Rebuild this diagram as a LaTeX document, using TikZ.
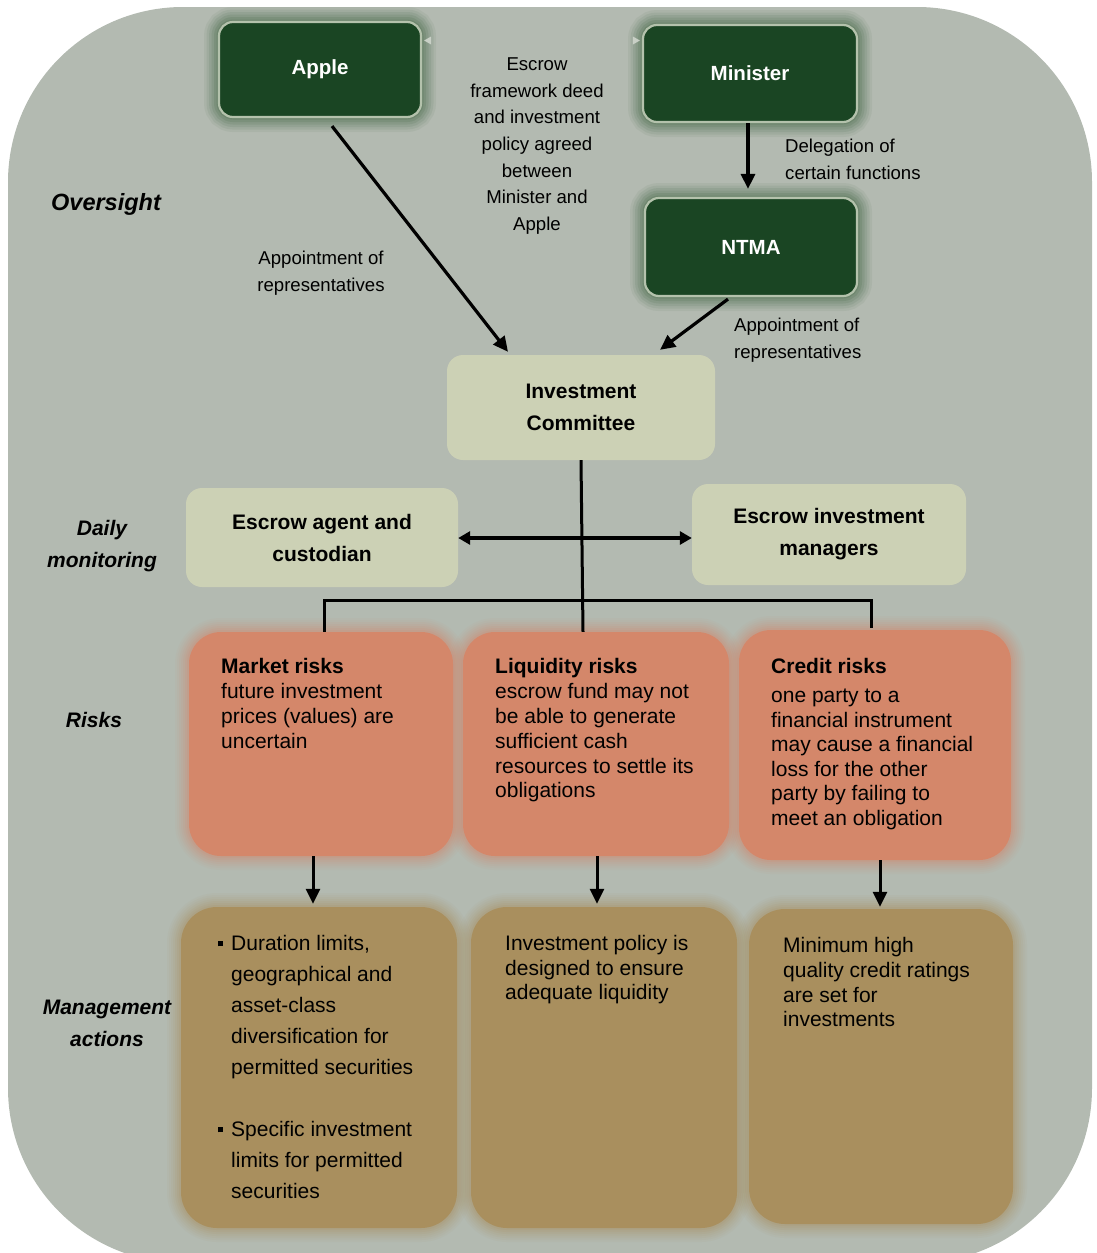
\documentclass[tikz,border=0pt]{standalone}
\usepackage{fontspec}
\setmainfont{Liberation Sans}
\usetikzlibrary{arrows.meta,calc}
\definecolor{bgc}{HTML}{B3BAB1}
\definecolor{dkgreen}{HTML}{1A4523}
\definecolor{greenedge}{HTML}{B4C2AC}
\definecolor{glowg}{HTML}{3A5F3B}
\definecolor{lightbox}{HTML}{CCD1B5}
\definecolor{orangebox}{HTML}{D4876A}
\definecolor{tanbox}{HTML}{A98F5E}
\definecolor{tipc}{HTML}{C9D0C6}
\begin{document}
\begin{tikzpicture}[x=1pt,y=-1pt,
  glow/.style={
    preaction={draw=#1, line width=28pt, draw opacity=0.05},
    preaction={draw=#1, line width=24pt, draw opacity=0.06},
    preaction={draw=#1, line width=20pt, draw opacity=0.07},
    preaction={draw=#1, line width=16pt, draw opacity=0.08},
    preaction={draw=#1, line width=12pt, draw opacity=0.10},
    preaction={draw=#1, line width=8pt, draw opacity=0.12},
    preaction={draw=#1, line width=4pt, draw opacity=0.15}},
  greenglow/.style={
    preaction={draw=#1, line width=30pt, draw opacity=0.07},
    preaction={draw=#1, line width=25pt, draw opacity=0.09},
    preaction={draw=#1, line width=20pt, draw opacity=0.11},
    preaction={draw=#1, line width=15pt, draw opacity=0.13},
    preaction={draw=#1, line width=10pt, draw opacity=0.15},
    preaction={draw=#1, line width=5pt, draw opacity=0.18}},
  greenbox/.style={draw=greenedge, line width=2.2pt, fill=dkgreen, rounded corners=14pt,
    inner sep=0pt, text=white, font=\fontsize{20.5}{24}\selectfont\bfseries, greenglow=glowg},
  lbox/.style={fill=lightbox, rounded corners=16pt, inner sep=0pt, align=center,
    font=\fontsize{21}{32}\selectfont\bfseries},
  riskbox/.style={fill=orangebox, rounded corners=32pt, inner sep=0pt, glow=orangebox},
  mbox/.style={fill=tanbox, rounded corners=36pt, inner sep=0pt, glow=tanbox},
  smalllabel/.style={inner sep=0pt, font=\fontsize{18.6}{26.7}\selectfont},
  sidelabel/.style={inner sep=0pt, align=center, font=\fontsize{21}{31.5}\selectfont\bfseries\itshape},
  bodytext/.style={inner sep=0pt, anchor=north west, align=left},
  arr/.style={line width=3.2pt, -{Triangle[length=15pt,width=14pt]}},
  conn/.style={line width=3pt}
]
\useasboundingbox (0,0) rectangle (1096,1253);
% background panel
\fill[bgc, rounded corners=175pt] (8,7) rectangle (1092,1263);

% oversight boxes
\node[greenbox, minimum width=202pt, minimum height=95pt] (apple) at (320,69.5) {Apple};
\node[greenbox, minimum width=214pt, minimum height=97pt] (minister) at (750,73.5) {Minister};
\node[greenbox, minimum width=212pt, minimum height=98pt] (ntma) at (751,247) {NTMA};

% tiny arrow tips between Apple and Minister
\fill[tipc] ($(apple.east)+(2,-29)$) -- ++(7,-4) -- ++(0,8) -- cycle;
\fill[tipc] ($(minister.west)+(-2,-33)$) -- ++(-7,-4) -- ++(0,8) -- cycle;

% committee and monitoring boxes
\node[lbox, minimum width=268pt, minimum height=105pt] (ic) at (581,407.5) {Investment\\Committee};
\node[lbox, minimum width=272pt, minimum height=99pt] (eac) at (322,537.5) {Escrow agent and\\custodian};
\node[lbox, minimum width=274pt, minimum height=101pt] (eim) at (829,534.5) {Escrow investment\\managers};

% risk boxes
\node[riskbox, minimum width=264pt, minimum height=224pt] (market) at (321,744) {};
\node[riskbox, minimum width=266pt, minimum height=224pt] (liq) at (596,744) {};
\node[riskbox, minimum width=272pt, minimum height=230pt] (credit) at (875,745) {};

% management boxes
\node[mbox, minimum width=276pt, minimum height=321pt] (ma1) at (319,1067.5) {};
\node[mbox, minimum width=266pt, minimum height=321pt] (ma2) at (604,1067.5) {};
\node[mbox, minimum width=264pt, minimum height=315pt] (ma3) at (881,1066.5) {};

% risk texts
\node[bodytext, font=\fontsize{21}{25}\selectfont] (markettxt) at (221,658.5)
  {\textbf{Market risks}\\future investment\\prices (values) are\\uncertain};
\node[bodytext, font=\fontsize{21}{24.8}\selectfont] (liqtxt) at (495,658.5)
  {\textbf{Liquidity risks}\\escrow fund may not\\be able to generate\\sufficient cash\\resources to settle its\\obligations};
\node[bodytext, font=\fontsize{21}{24.6}\selectfont] (credittxt) at (771,658.5)
  {\textbf{Credit risks}\\[4pt]one party to a\\financial instrument\\may cause a financial\\loss for the other\\party by failing to\\meet an obligation};

% management texts
\node[bodytext, font=\fontsize{21}{31}\selectfont] (ma1txt) at (231,935.5)
  {\llap{\raisebox{4.5pt}{\rule{5pt}{5pt}}\hspace{8pt}}Duration limits,\\geographical and\\asset-class\\diversification for\\permitted securities\\[31pt]\llap{\raisebox{4.5pt}{\rule{5pt}{5pt}}\hspace{8pt}}Specific investment\\limits for permitted\\securities};
\node[bodytext, font=\fontsize{21}{24.5}\selectfont] (ma2txt) at (505,935.5)
  {Investment policy is\\designed to ensure\\adequate liquidity};
\node[bodytext, font=\fontsize{21}{24.6}\selectfont] (ma3txt) at (783,937.5)
  {Minimum high\\quality credit ratings\\are set for\\investments};

% side labels
\node[sidelabel, font=\fontsize{23.5}{28}\selectfont\bfseries\itshape] (lover) at (106,204) {Oversight};
\node[sidelabel] (ldaily) at (102,546) {Daily\\monitoring};
\node[sidelabel] (lrisks) at (94,719.5) {Risks};
\node[sidelabel] (lmanage) at (107,1023.5) {Management\\actions};

% small labels
\node[smalllabel, align=center] (deed) at (537,146)
  {Escrow\\framework deed\\and investment\\policy agreed\\between\\Minister and\\Apple};
\node[smalllabel, align=center] (appl) at (321,273.5) {Appointment of\\representatives};
\node[smalllabel, align=left, anchor=west] (deleg) at (785,159.5) {Delegation of\\certain functions};
\node[smalllabel, align=left, anchor=west] (appr) at (734,340.5) {Appointment of\\representatives};

% connectors
\draw[arr] ($(apple.south)+(12,8)$) -- ($(ic.north)+(-73,-3)$);
\draw[arr] ($(ntma.south)+(-23,2)$) -- ($(ic.north)+(79,-5)$);
\draw[arr] ($(minister.south)+(-2,0)$) -- ($(ntma.north)+(-3,-8)$);
\draw[conn] (ic.south) -- ($(ic.south |- liq.north)+(2,0)$);
\draw[line width=3.6pt, {Triangle[length=12pt,width=13pt]}-{Triangle[length=12pt,width=13pt]}]
  (eac.east |- 0,538) -- (eim.west |- 0,538);
\draw[conn] ($(market.north)+(3,0)$) |- ($(credit.north)+(-4,-29)$) -- ($(credit.north)+(-4,-2)$);
\draw[arr, line width=3pt] ($(market.south)+(-8,0)$) -- ($(ma1.north)+(-6,-3)$);
\draw[arr, line width=3pt] ($(liq.south)+(1,0)$) -- ($(ma2.north)+(-7,-3)$);
\draw[arr, line width=3pt] ($(credit.south)+(5,0)$) -- ($(ma3.north)+(-1,-2)$);
\end{tikzpicture}
\end{document}
